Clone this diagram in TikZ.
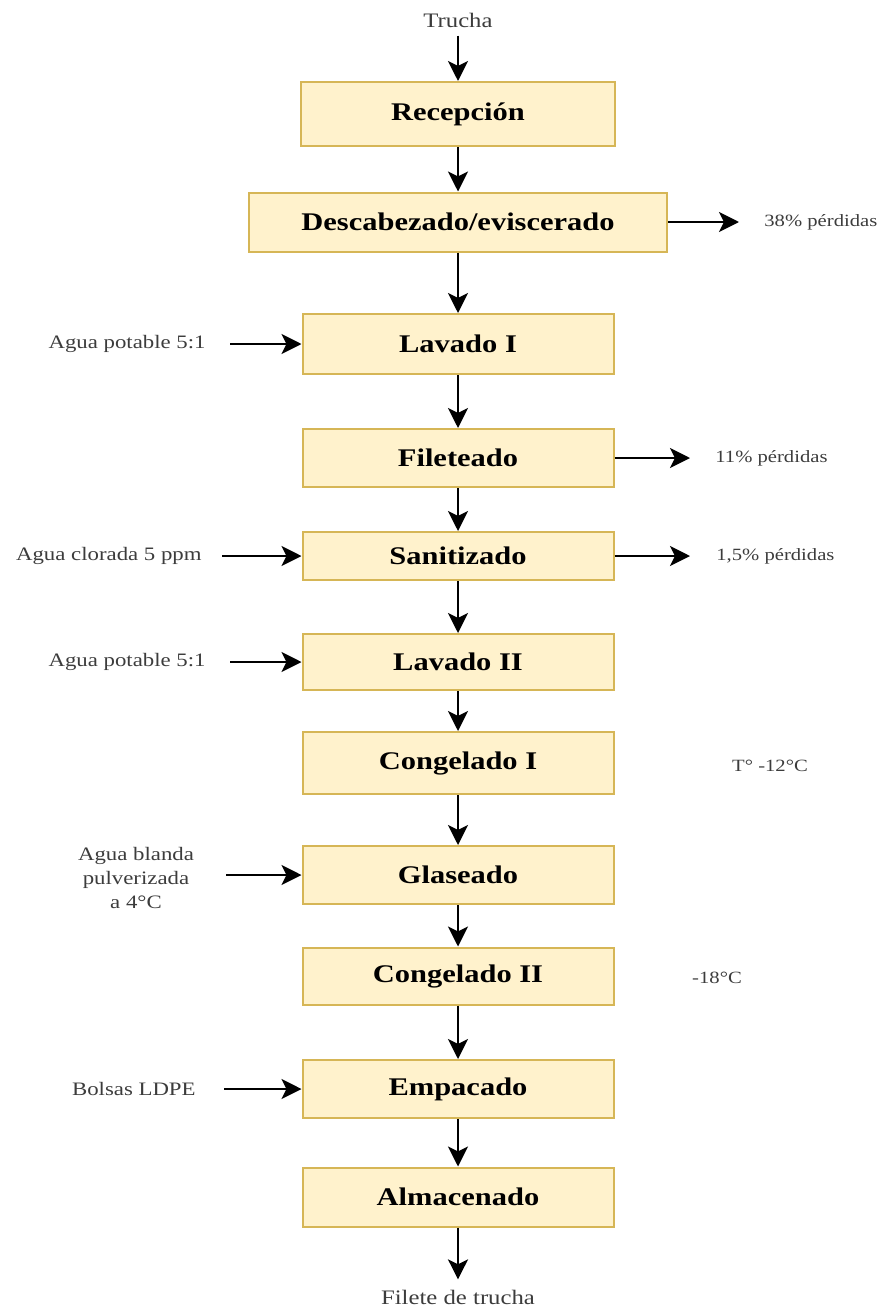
\documentclass[tikz,border=0pt]{standalone}
\usepackage{fontspec}
\setmainfont{Liberation Serif}[FakeStretch=1.2]
\usetikzlibrary{arrows.meta}
\definecolor{boxfill}{HTML}{FFF2CC}
\definecolor{boxedge}{HTML}{D6B656}
\definecolor{lblgray}{HTML}{3C3C3C}

\begin{document}
\begin{tikzpicture}[x=0.5pt, y=-0.5pt,
		paso/.style={draw=boxedge, fill=boxfill, line width=1pt, minimum width=155.5pt, minimum height=29pt, inner sep=0pt, font=\fontsize{12.7}{15}\selectfont\bfseries},
		entrada/.style={inner sep=0pt, text=lblgray, align=center, font=\fontsize{9.5}{12}\selectfont},
		salida/.style={inner sep=0pt, text=lblgray, font=\fontsize{8.6}{10}\selectfont},
		extremo/.style={inner sep=0pt, text=lblgray, font=\fontsize{10.3}{12}\selectfont},
		flujo/.style={line width=1.3pt, -{Stealth[length=10pt, width=10pt, inset=2.5pt]}}]
	\useasboundingbox (0, 0) rectangle (881, 1311);
	\node[paso, minimum width=157pt, minimum height=32pt] (recep) at (458, 114) {Recepción};
	\node[paso, minimum width=209pt, minimum height=29.5pt] (desc) at (458, 222) {Descabezado/eviscerado};
	\node[paso, minimum height=30pt] (lav1) at (458, 344) {Lavado I};
	\node[paso] (filet) at (458, 458) {Fileteado};
	\node[paso, minimum height=24pt] (sanit) at (458, 556) {Sanitizado};
	\node[paso, minimum height=28pt] (lav2) at (458, 662) {Lavado II};
	\node[paso, minimum height=31pt] (cong1) at (458, 763) {Congelado I};
	\node[paso] (glas) at (458, 875) {Glaseado};
	\node[paso, minimum height=28.5pt] (cong2) at (458, 976) {Congelado II};
	\node[paso] (empac) at (458, 1089) {Empacado};
	\node[paso, minimum height=29.5pt] (almac) at (458, 1197) {Almacenado};
	\node[extremo] (trucha) at (458, 20) {Trucha};
	\node[extremo] (filete) at (458, 1297) {Filete de trucha};
	\node[entrada, anchor=east] (agua1) at (206, 344) {Agua potable 5:1};
	\node[entrada, anchor=east] (agua2) at (202, 556) {Agua clorada 5 ppm};
	\node[entrada, anchor=east] (agua3) at (206, 662) {Agua potable 5:1};
	\node[entrada] (agua4) at (136, 878) {Agua blanda\\pulverizada\\a 4°C};
	\node[entrada, anchor=east] (bolsas) at (196, 1089) {Bolsas LDPE};
	\node[salida, anchor=west] (perd1) at (764, 222) {38\% pérdidas};
	\node[salida, anchor=west] (perd2) at (715, 458) {11\% pérdidas};
	\node[salida, anchor=west] (perd3) at (716, 556) {1,5\% pérdidas};
	\node[salida] (temp1) at (770, 766) {T° -12°C};
	\node[salida] (temp2) at (717, 978) {-18°C};
	\draw[flujo, shorten <=4pt] (trucha) -- (recep);
	\foreach \a/\b in {recep/desc, desc/lav1, lav1/filet, filet/sanit, sanit/lav2, lav2/cong1, cong1/glas, glas/cong2, cong2/empac, empac/almac}
		\draw[flujo] (\a) -- (\b);
	\draw[flujo, shorten >=5pt] (almac) -- (filete);
	\draw[flujo, shorten <=12pt] (agua1) -- (lav1);
	\draw[flujo, shorten <=10pt] (agua2) -- (sanit);
	\draw[flujo, shorten <=12pt] (agua3) -- (lav2);
	\draw[flujo, shorten <=16pt] (agua4.east |- glas) -- (glas);
	\draw[flujo, shorten <=14pt] (bolsas) -- (empac);
	\draw[flujo, shorten >=12.5pt] (desc) -- (perd1);
	\draw[flujo, shorten >=12.5pt] (filet) -- (perd2);
	\draw[flujo, shorten >=13pt] (sanit) -- (perd3);
\end{tikzpicture}
\end{document}
